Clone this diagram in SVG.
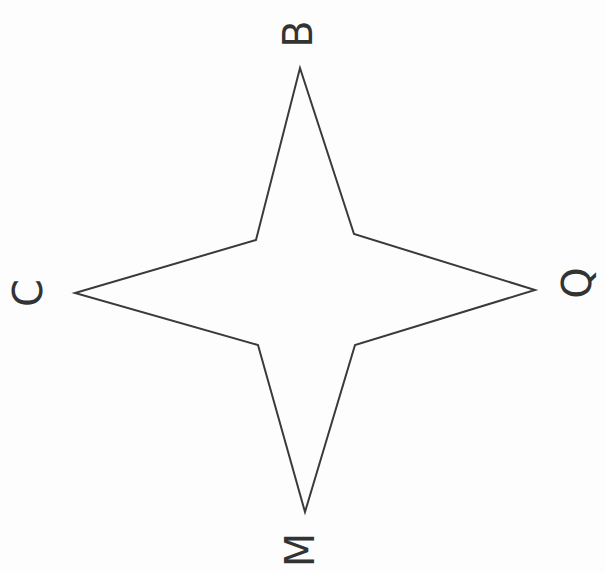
<svg xmlns="http://www.w3.org/2000/svg" width="605" height="573" viewBox="0 0 605 573">
<style>
.lbl{font-family:"DejaVu Sans",sans-serif;font-size:40px;font-weight:normal;fill:#333;text-anchor:middle;dominant-baseline:central}
.star{fill:none;stroke:#3a3a3a;stroke-width:2;stroke-linejoin:miter}
</style>
<rect width="605" height="573" fill="#fdfdfd"/>
<g id="star">
<path class="star" d="M300,68 L354,234 L535,290 L355,345 L305,512 L258,345 L75,293 L256,240 Z"/>
</g>
<g id="label-top"><text class="lbl" x="0" y="0" transform="translate(298,34) rotate(-90)">B</text></g>
<g id="label-left"><text class="lbl" x="0" y="0" transform="translate(28,293) rotate(-90)">C</text></g>
<g id="label-right"><text class="lbl" x="0" y="0" transform="translate(577,283) rotate(-90)">Q</text></g>
<g id="label-bottom"><text class="lbl" x="0" y="0" transform="translate(300,550) rotate(-90)">M</text></g>
</svg>
